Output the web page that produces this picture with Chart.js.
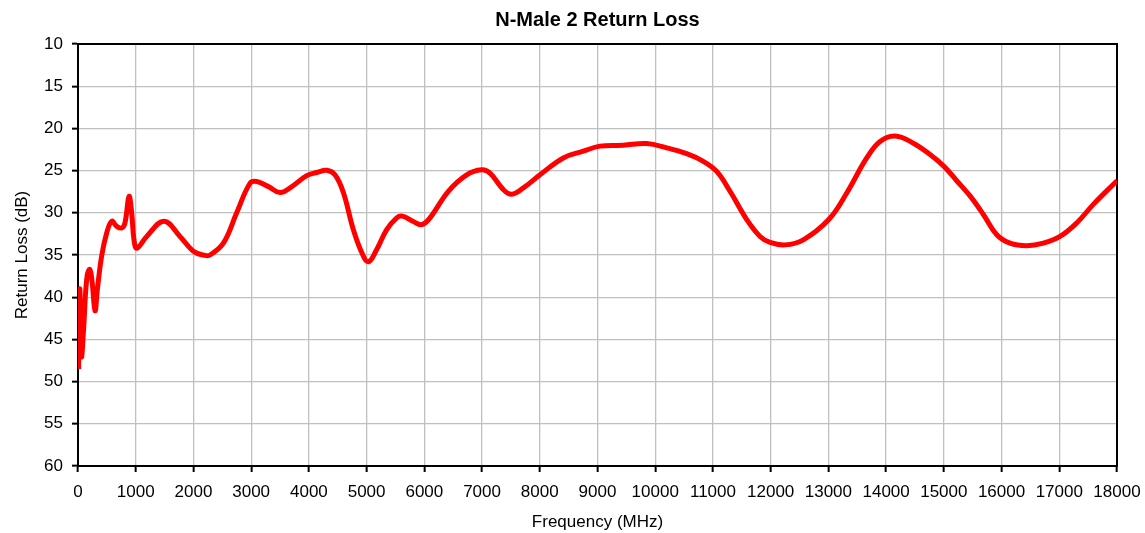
<!DOCTYPE html>
<html>
<head>
<meta charset="utf-8">
<script src="https://cdn.jsdelivr.net/npm/chart.js@4/dist/chart.umd.min.js"></script>
<style>
html,body{margin:0;padding:0;background:#fff;}
#wrap{width:1145px;height:533px;}
</style>
</head>
<body>
<div id="wrap"><canvas id="c" width="1145" height="533"></canvas></div>
<script>
const chartTitle = "N-Male 2 Return Loss";
const xAxisTitle = "Frequency (MHz)";
const yAxisTitle = "Return Loss (dB)";

const frequencyMHz = [
  10, 30, 60, 95, 150, 200, 240, 295, 335, 410, 497, 584, 670, 757, 814, 884, 930, 970, 1020,
  1190, 1490, 1767, 1998, 2200, 2287, 2518, 2749, 2980, 3096, 3300, 3500, 3673, 3962, 4150,
  4309, 4452, 4597, 4770, 4915, 5030, 5175, 5348, 5522, 5620, 5800, 5954, 6098, 6416, 6734,
  6994, 7138, 7369, 7514, 7715, 8004, 8408, 8754, 9043, 9447, 9852, 10199, 10545, 10833,
  11065, 11296, 11585, 11816, 11989, 12249, 12566, 13006, 13318, 13664, 13895, 14155, 14472,
  14761, 15003, 15223, 15454, 15685, 15917, 16147, 16436, 16724, 17013, 17302, 17590, 18000
];
const returnLossDB = [
  48.5, 39.0, 47.0, 44.0, 37.9, 36.7, 37.9, 41.6, 39.1, 35.1, 32.4, 31.0, 31.6, 31.8, 31.2, 28.05, 30.0, 33.2, 34.2,
  32.8, 31.0, 32.8, 34.55, 35.05, 35.0, 33.6, 30.0, 26.5, 26.3, 26.9, 27.6, 27.05, 25.6, 25.2,
  24.97, 25.5, 27.6, 32.0, 34.7, 35.8, 34.35, 32.0, 30.6, 30.4, 31.0, 31.4, 30.6, 27.45, 25.5,
  24.9, 25.3, 27.25, 27.8, 27.05, 25.5, 23.5, 22.7, 22.1, 22.0, 21.8, 22.3, 23.0, 23.9,
  25.1, 27.45, 30.8, 32.8, 33.5, 33.8, 33.2, 30.8, 27.65, 23.5, 21.55, 20.9, 21.75,
  23.1, 24.5, 26.2, 28.0, 30.2, 32.6, 33.6, 33.9, 33.6, 32.8, 31.2, 29.0, 26.2
];
const xTicks = {min: 0, max: 18000, step: 1000};
const yTicks = {min: 10, max: 60, step: 5};

const points = frequencyMHz.map((f, i) => ({x: f, y: returnLossDB[i]}));

const framePlugin = {
  id: 'frame',
  beforeDatasetsDraw(chart) {
    const a = chart.chartArea, ctx = chart.ctx;
    ctx.save();
    ctx.strokeStyle = '#000';
    ctx.lineWidth = 2;
    ctx.strokeRect(a.left, a.top, a.right - a.left, a.bottom - a.top);
    ctx.restore();
  }
};

const FONT = 'Liberation Sans, Arial, sans-serif';

new Chart(document.getElementById('c'), {
  type: 'line',
  data: {
    datasets: [{
      data: points,
      borderColor: '#ff0000',
      borderWidth: 5,
      pointRadius: 0,
      fill: false,
      tension: 0.4
    }]
  },
  options: {
    responsive: false,
    animation: false,
    layout: {padding: {left: 0, right: 28, top: 0, bottom: 0}},
    plugins: {
      legend: {display: false},
      tooltip: {enabled: false},
      title: {
        display: true,
        text: chartTitle,
        fullSize: false,
        color: '#000',
        font: {family: FONT, size: 20, weight: 'bold'},
        padding: {top: 8, bottom: 12}
      }
    },
    scales: {
      x: {
        type: 'linear',
        min: xTicks.min, max: xTicks.max,
        afterFit(s) { s.height = 67; s.paddingLeft = 0; s.paddingRight = 0; },
        ticks: {
          stepSize: xTicks.step,
          color: '#000',
          padding: 10,
          maxRotation: 0,
          autoSkip: false,
          font: {family: FONT, size: 17},
          callback: v => String(v)
        },
        grid: {color: '#c0c0c0', lineWidth: 1.3, tickColor: '#000', tickLength: 6, tickWidth: 2},
        border: {color: '#000', width: 2},
        title: {
          display: true, text: xAxisTitle, color: '#000',
          font: {family: FONT, size: 17},
          padding: {top: 0, bottom: 0}
        }
      },
      y: {
        type: 'linear',
        reverse: true,
        min: yTicks.min, max: yTicks.max,
        afterFit(s) { s.width = 78; },
        ticks: {
          stepSize: yTicks.step,
          color: '#000',
          padding: 9,
          font: {family: FONT, size: 17}
        },
        grid: {color: '#c0c0c0', lineWidth: 1.3, tickColor: '#000', tickLength: 6, tickWidth: 2},
        border: {color: '#000', width: 2},
        title: {
          display: true, text: yAxisTitle, color: '#000',
          font: {family: FONT, size: 17},
          padding: {top: 12, bottom: 0}
        }
      }
    }
  },
  plugins: [framePlugin]
});
</script>
</body>
</html>
